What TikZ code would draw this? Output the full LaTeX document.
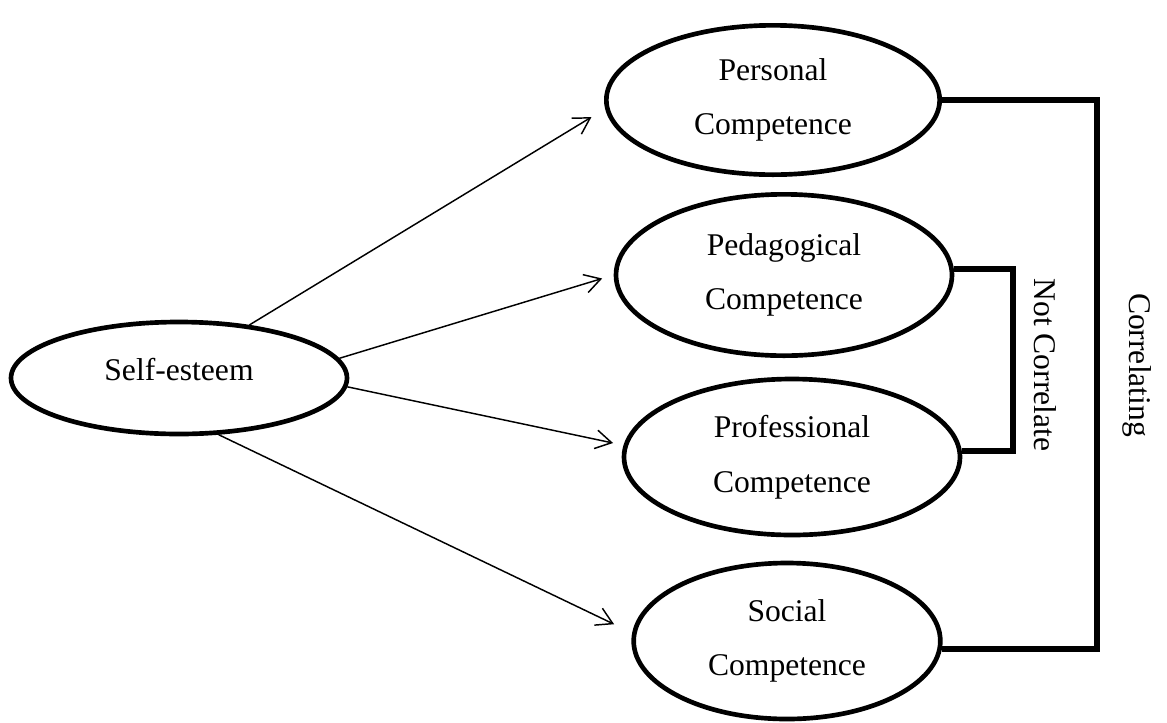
\documentclass[tikz,border=0pt]{standalone}
\usepackage{fontspec}
\setmainfont{Liberation Serif}
\usetikzlibrary{shapes.geometric,arrows.meta}
\begin{document}
\begin{tikzpicture}[x=0.75pt,y=-0.75pt,
  oval/.style={ellipse, draw, line width=3.5pt, inner sep=0pt, align=center,
    font=\fontsize{23.7}{41}\selectfont},
  arr/.style={line width=1.1pt, -{Straight Barb[length=12pt,width=14pt,line width=1.1pt]}},
  bracket/.style={line width=4.2pt},
  bshadow/.style={line width=4.2pt, black!22, xshift=1.6pt, yshift=-1.6pt},
  lbl/.style={rotate=-90, inner sep=0pt, font=\fontsize{23.7}{28}\selectfont}]
\useasboundingbox (0,0) rectangle (1167,722);
\node[oval, minimum width=252pt, minimum height=84pt, text depth=13pt] (se) at (179,378) {Self-esteem};
\node[oval, minimum width=250pt, minimum height=112pt] (pers) at (773,100) {Personal\\Competence};
\node[oval, minimum width=252pt, minimum height=121pt] (ped) at (784,275) {Pedagogical\\Competence};
\node[oval, minimum width=252pt, minimum height=117pt] (prof) at (792,457) {Professional\\Competence};
\node[oval, minimum width=230pt, minimum height=117pt] (soc) at (787,641) {Social\\Competence};

\draw[arr, shorten >=12pt] (se.37) -- (pers.183.5);
\draw[arr, shorten >=9pt] (se.7) -- (ped.180);
\draw[arr, shorten >=8pt] (se.-3.6) -- (prof.176);
\draw[arr, shorten >=15pt] (se.-55.6) -- (soc.177);

\coordinate (bigR) at (1097,99);
\coordinate (smallR) at (1013,270);
\draw[bshadow] (pers.east) -- (pers.east -| bigR) |- (soc.-3);
\draw[bshadow] (ped.2) -- (ped.2 -| smallR) |- (prof.2);
\draw[bracket] (pers.east) -- (pers.east -| bigR) |- (soc.-3);
\draw[bracket] (ped.2) -- (ped.2 -| smallR) |- (prof.2);

\node[lbl] (nc) at (1045,365) {Not Correlate};
\node[lbl] (cr) at (1137,365) {Correlating};
\end{tikzpicture}
\end{document}
